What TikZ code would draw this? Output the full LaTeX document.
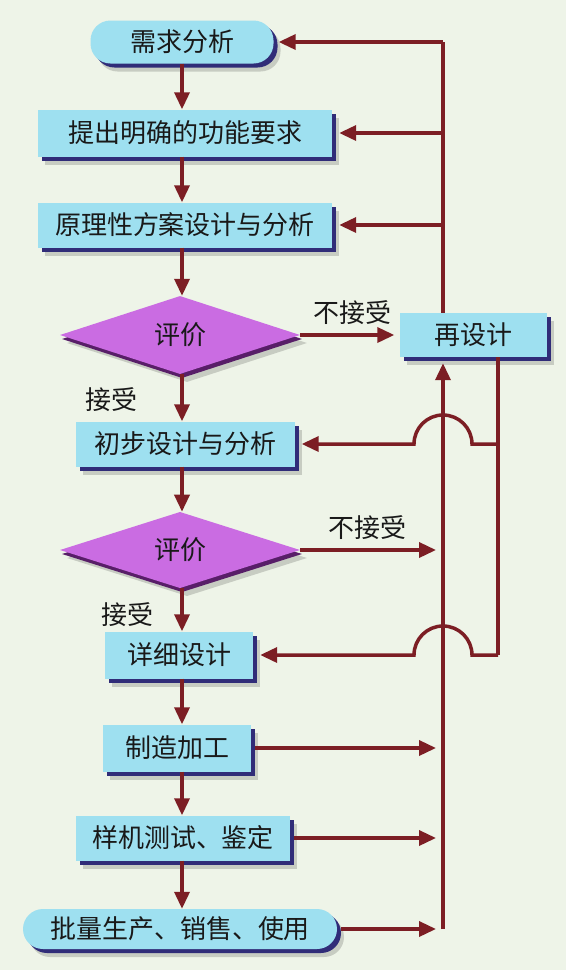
\documentclass[tikz,border=0pt]{standalone}
\usepackage{fontspec}
\newfontfamily\cjk{Noto Sans CJK SC}
\usetikzlibrary{shapes.geometric,shadows,arrows.meta}
\definecolor{bgc}{RGB}{238,244,232}
\definecolor{boxfill}{RGB}{158,224,240}
\definecolor{boxsh}{RGB}{48,44,120}
\definecolor{diafill}{RGB}{202,108,226}
\definecolor{diash}{RGB}{88,30,104}
\definecolor{arrc}{RGB}{124,30,36}
\tikzset{
  txt/.style={font=\cjk\fontsize{26}{31}\selectfont, text=black!90},
  soft/.style={general shadow={fill=black, opacity=0.16, shadow xshift=7pt, shadow yshift=-8pt}},
  box/.style={txt, rectangle, fill=boxfill, inner sep=0pt, soft,
    general shadow={fill=boxsh, shadow xshift=4pt, shadow yshift=-4pt}},
  stad/.style={box, rounded corners=20pt},
  dia/.style={txt, diamond, fill=diafill, inner sep=0pt, soft,
    general shadow={fill=diash, shadow xshift=2pt, shadow yshift=-4pt}},
  lbl/.style={txt, inner sep=0pt},
  ln/.style={draw=arrc, line width=3.5pt},
  arr/.style={ln, -{Triangle[length=17pt,width=15pt]}},
}
\begin{document}
\begin{tikzpicture}[x=1pt,y=1pt]
\fill[bgc] (0,0) rectangle (566,-970);
\useasboundingbox (0,0) rectangle (566,-970);
\coordinate (col) at (182,0);
% nodes
\node[stad, minimum width=183pt, minimum height=43pt] (n1) at (182,-42) {需求分析};
\node[box, minimum width=294pt, minimum height=47pt] (n2) at (185,-133) {提出明确的功能要求};
\node[box, minimum width=294pt, minimum height=45pt] (n3) at (185,-225) {原理性方案设计与分析};
\node[dia, minimum width=240pt, minimum height=78pt] (d1) at (180,-335) {评价};
\node[box, minimum width=147pt, minimum height=44pt] (re) at (473,-335) {再设计};
\node[box, minimum width=219pt, minimum height=45pt] (n4) at (185,-444) {初步设计与分析};
\node[dia, minimum width=240pt, minimum height=76pt] (d2) at (180,-550) {评价};
\node[box, minimum width=148pt, minimum height=47pt] (n5) at (179,-655) {详细设计};
\node[box, minimum width=148pt, minimum height=47pt] (n6) at (177,-748) {制造加工};
\node[box, minimum width=214pt, minimum height=45pt] (n7) at (183,-838) {样机测试、鉴定};
\node[stad, minimum width=314pt, minimum height=40pt] (n8) at (180,-929) {批量生产、销售、使用};
% labels
\node[lbl] (l1) at (352,-313) {不接受};
\node[lbl] (l2) at (111,-400) {接受};
\node[lbl] (l3) at (367,-528) {不接受};
\node[lbl] (l4) at (127,-615) {接受};
% main column
\draw[arr] (n1.south -| col) -- (n2.north -| col);
\draw[arr] (n2.south -| col) -- (n3.north -| col);
\draw[arr] (n3.south -| col) -- (d1.north -| col);
\draw[arr] (d1.south -| col) -- (n4.north -| col);
\draw[arr] (n4.south -| col) -- (d2.north -| col);
\draw[arr] (d2.south -| col) -- (n5.north -| col);
\draw[arr] (n5.south -| col) -- (n6.north -| col);
\draw[arr] (n6.south -| col) -- (n7.north -| col);
\draw[arr] (n7.south -| col) -- (n8.north -| col);
% feedback from redesign to top
\coordinate (bus) at (443,-929);
\coordinate (tc) at (443,-42);
\draw[ln] (re.north -| tc) -- (tc);
\draw[arr, shorten >=5pt] (tc) -- (n1.east);
\draw[arr, shorten >=7pt] (tc |- n2.east) -- (n2.east);
\draw[arr, shorten >=7pt] (tc |- n3.east) -- (n3.east);
% not accepted 1
\draw[arr, shorten >=5pt] (d1.east) -- (re.west);
% redesign right line with hops
\coordinate (rr) at (498,-655);
\coordinate (h1) at (472,-444);
\coordinate (h2) at (472,-655);
\draw[ln] (re.south -| rr) -- (rr);
\draw[arr, shorten >=7pt] (rr) -- (h2) arc[start angle=0, end angle=180, radius=29] -- (n5.east);
\draw[arr, shorten >=7pt] (rr |- h1) -- (h1) arc[start angle=0, end angle=180, radius=29] -- (n4.east);
% bus up to redesign
\draw[arr, shorten >=6pt] (bus) -- (re.south -| bus);
\draw[arr, shorten >=7pt] (d2.east) -- (bus |- d2.east);
\draw[arr, shorten >=7pt] ([xshift=4pt]n6.east) -- (bus |- n6.east);
\draw[arr, shorten >=7pt] ([xshift=4pt]n7.east) -- (bus |- n7.east);
\draw[arr, shorten >=7pt] ([xshift=4pt]n8.east) -- (bus);
\end{tikzpicture}
\end{document}
